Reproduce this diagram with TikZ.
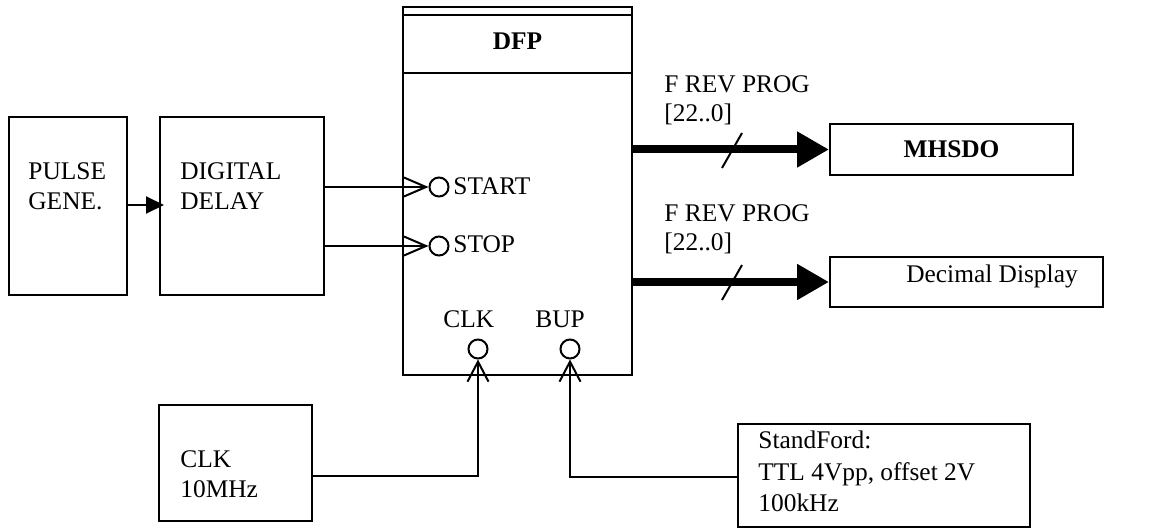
\documentclass[tikz,border=0pt]{standalone}
\usepackage{fontspec}
\setmainfont{Liberation Serif}
\usetikzlibrary{arrows.meta}
\begin{document}
\begin{tikzpicture}[x=0.5pt,y=-0.5pt,
  box/.style={draw, line width=1pt, inner sep=0pt, rectangle},
  lbl/.style={anchor=base west, inner sep=0pt, font=\fontsize{12.7}{15}\selectfont},
  ctr/.style={anchor=base, inner sep=0pt, font=\fontsize{12.7}{15}\selectfont},
  wire/.style={line width=1pt},
  bus/.style={line width=4pt, -{Triangle[length=16pt,width=17pt]}},
  pin/.style={draw, circle, line width=1pt, minimum size=9.5pt, inner sep=0pt},
  inarrow/.style={wire, -{Straight Barb[length=11pt,width=9.5pt]}},
  uparrow/.style={wire, -{Straight Barb[length=10pt,width=10.5pt]}}
]
\useasboundingbox (0,0) rectangle (1161,529);

% boxes
\node[box, minimum width=59pt, minimum height=89pt] (pg) at (68,206) {};
\node[box, minimum width=82pt, minimum height=89pt] (dd) at (242,206) {};
\node[box, minimum width=114.5pt, minimum height=184pt] (dfp) at (517.5,191) {};
\node[box, minimum width=114.5pt, minimum height=29pt] (dfph) at (517.5,44) {};
\node[box, minimum width=76.5pt, minimum height=58pt] (clkbox) at (235.5,463) {};
\node[box, minimum width=146pt, minimum height=51.5pt] (sf) at (884,475.5) {};
\node[box, minimum width=121.5pt, minimum height=25.5pt] (mh) at (951.5,149.5) {};
\node[box, minimum width=136.5pt, minimum height=25pt] (dec) at (966.5,282) {};

% pins
\node[pin] (start) at (439,187) {};
\node[pin] (stop) at (439,246) {};
\node[pin] (clkpin) at (478,349) {};
\node[pin] (buppin) at (570,349) {};

% texts
\node[lbl] (t1) at (28,180) {PULSE};
\node[lbl] (t2) at (28,210) {GENE.};
\node[lbl] (t3) at (180,180) {DIGITAL};
\node[lbl] (t4) at (180,210) {DELAY};
\node[ctr, font=\fontsize{12.7}{15}\selectfont\bfseries] (t5) at (517.5,50) {DFP};
\node[lbl] (t6) at (453,195) {START};
\node[lbl] (t7) at (453,253) {STOP};
\node[lbl] (t8) at (443,327) {CLK};
\node[lbl] (t9) at (535,327) {BUP};
\node[lbl] (t10) at (664,93) {F REV PROG};
\node[lbl] (t11) at (664,122) {[22..0]};
\node[lbl] (t12) at (664,221) {F REV PROG};
\node[lbl] (t13) at (664,250) {[22..0]};
\node[ctr, font=\fontsize{12.7}{15}\selectfont\bfseries] (t14) at (951.5,158) {MHSDO};
\node[ctr] (t15) at (992,282) {Decimal Display};
\node[lbl] (t16) at (180,467) {CLK};
\node[lbl] (t17) at (180,497) {10MHz};
\node[lbl] (t18) at (758,448) {StandFord:};
\node[lbl] (t19) at (758,480) {TTL 4Vpp, offset 2V};
\node[lbl] (t20) at (758,511) {100kHz};

% connectors
\draw[wire, -{Triangle[length=9pt,width=8.5pt]}, shorten >=-2.5pt] (pg.east |- 0,205) -- (dd.west |- 0,205);
\draw[inarrow] (dd.east |- start.west) -- (start.west);
\draw[inarrow] (dd.east |- stop.west) -- (stop.west);

\coordinate (cj) at (478,476);
\coordinate (bj) at (570,477);
\draw[uparrow] (clkbox.east |- cj) -- (cj) -- (clkpin.south);
\draw[uparrow] (sf.west |- bj) -- (bj) -- (buppin.south);

\draw[bus] (dfp.east |- mh.west) -- (mh.west);
\draw[bus] (dfp.east |- dec.west) -- (dec.west);

% bus width slashes
\draw[wire] (722,168) -- (742,133);
\draw[wire] (722,300) -- (742,265);
\end{tikzpicture}
\end{document}
